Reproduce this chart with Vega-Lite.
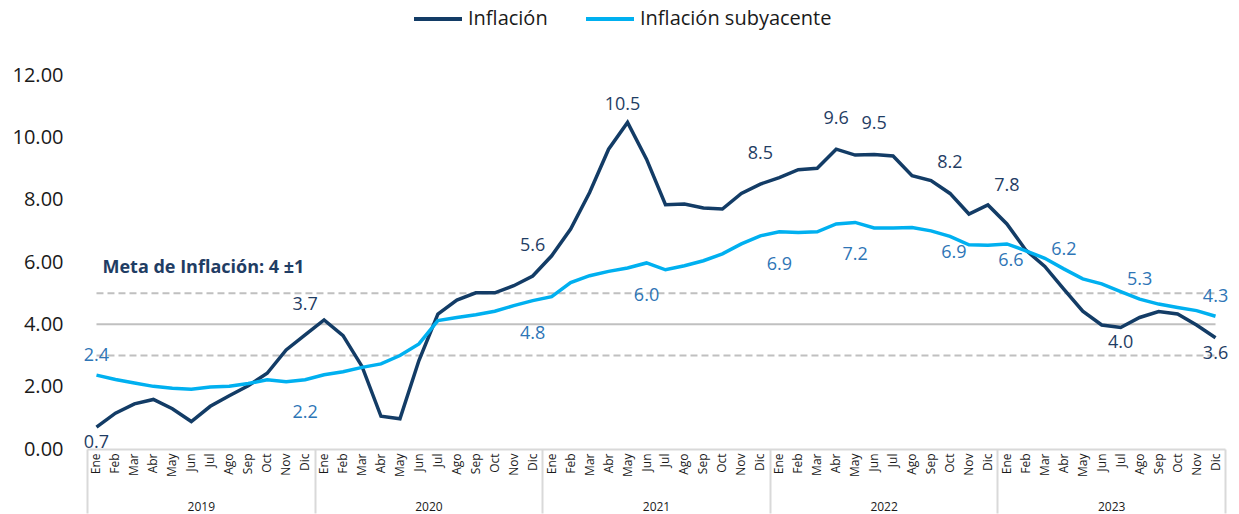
{
  "$schema": "https://vega.github.io/schema/vega-lite/v6.json",
  "autosize": {"type": "none"},
  "padding": {"left": 87, "top": 75, "right": 14, "bottom": 65},
  "width": 1138,
  "height": 374,
  "config": {
    "font": "Open Sans",
    "view": {"stroke": null}
  },
  "data": {"values": [
    {"fecha":"2019-01","anio":"2019","serie":"Inflación","valor":0.70,"etiqueta":"0.7"},
    {"fecha":"2019-02","anio":"2019","serie":"Inflación","valor":1.15},
    {"fecha":"2019-03","anio":"2019","serie":"Inflación","valor":1.45},
    {"fecha":"2019-04","anio":"2019","serie":"Inflación","valor":1.59},
    {"fecha":"2019-05","anio":"2019","serie":"Inflación","valor":1.29},
    {"fecha":"2019-06","anio":"2019","serie":"Inflación","valor":0.88},
    {"fecha":"2019-07","anio":"2019","serie":"Inflación","valor":1.37},
    {"fecha":"2019-08","anio":"2019","serie":"Inflación","valor":1.71},
    {"fecha":"2019-09","anio":"2019","serie":"Inflación","valor":2.03},
    {"fecha":"2019-10","anio":"2019","serie":"Inflación","valor":2.43},
    {"fecha":"2019-11","anio":"2019","serie":"Inflación","valor":3.18},
    {"fecha":"2019-12","anio":"2019","serie":"Inflación","valor":3.66,"etiqueta":"3.7"},
    {"fecha":"2020-01","anio":"2020","serie":"Inflación","valor":4.14},
    {"fecha":"2020-02","anio":"2020","serie":"Inflación","valor":3.64},
    {"fecha":"2020-03","anio":"2020","serie":"Inflación","valor":2.65},
    {"fecha":"2020-04","anio":"2020","serie":"Inflación","valor":1.05},
    {"fecha":"2020-05","anio":"2020","serie":"Inflación","valor":0.97},
    {"fecha":"2020-06","anio":"2020","serie":"Inflación","valor":2.84},
    {"fecha":"2020-07","anio":"2020","serie":"Inflación","valor":4.33},
    {"fecha":"2020-08","anio":"2020","serie":"Inflación","valor":4.78},
    {"fecha":"2020-09","anio":"2020","serie":"Inflación","valor":5.01},
    {"fecha":"2020-10","anio":"2020","serie":"Inflación","valor":5.01},
    {"fecha":"2020-11","anio":"2020","serie":"Inflación","valor":5.24},
    {"fecha":"2020-12","anio":"2020","serie":"Inflación","valor":5.55,"etiqueta":"5.6"},
    {"fecha":"2021-01","anio":"2021","serie":"Inflación","valor":6.20},
    {"fecha":"2021-02","anio":"2021","serie":"Inflación","valor":7.06},
    {"fecha":"2021-03","anio":"2021","serie":"Inflación","valor":8.23},
    {"fecha":"2021-04","anio":"2021","serie":"Inflación","valor":9.62},
    {"fecha":"2021-05","anio":"2021","serie":"Inflación","valor":10.48,"etiqueta":"10.5"},
    {"fecha":"2021-06","anio":"2021","serie":"Inflación","valor":9.30},
    {"fecha":"2021-07","anio":"2021","serie":"Inflación","valor":7.84},
    {"fecha":"2021-08","anio":"2021","serie":"Inflación","valor":7.86},
    {"fecha":"2021-09","anio":"2021","serie":"Inflación","valor":7.73},
    {"fecha":"2021-10","anio":"2021","serie":"Inflación","valor":7.70},
    {"fecha":"2021-11","anio":"2021","serie":"Inflación","valor":8.20},
    {"fecha":"2021-12","anio":"2021","serie":"Inflación","valor":8.50,"etiqueta":"8.5"},
    {"fecha":"2022-01","anio":"2022","serie":"Inflación","valor":8.71},
    {"fecha":"2022-02","anio":"2022","serie":"Inflación","valor":8.96},
    {"fecha":"2022-03","anio":"2022","serie":"Inflación","valor":9.01},
    {"fecha":"2022-04","anio":"2022","serie":"Inflación","valor":9.62,"etiqueta":"9.6"},
    {"fecha":"2022-05","anio":"2022","serie":"Inflación","valor":9.43},
    {"fecha":"2022-06","anio":"2022","serie":"Inflación","valor":9.45,"etiqueta":"9.5"},
    {"fecha":"2022-07","anio":"2022","serie":"Inflación","valor":9.40},
    {"fecha":"2022-08","anio":"2022","serie":"Inflación","valor":8.77},
    {"fecha":"2022-09","anio":"2022","serie":"Inflación","valor":8.61},
    {"fecha":"2022-10","anio":"2022","serie":"Inflación","valor":8.20,"etiqueta":"8.2"},
    {"fecha":"2022-11","anio":"2022","serie":"Inflación","valor":7.54},
    {"fecha":"2022-12","anio":"2022","serie":"Inflación","valor":7.83},
    {"fecha":"2023-01","anio":"2023","serie":"Inflación","valor":7.22,"etiqueta":"7.8"},
    {"fecha":"2023-02","anio":"2023","serie":"Inflación","valor":6.38},
    {"fecha":"2023-03","anio":"2023","serie":"Inflación","valor":5.86},
    {"fecha":"2023-04","anio":"2023","serie":"Inflación","valor":5.13},
    {"fecha":"2023-05","anio":"2023","serie":"Inflación","valor":4.42},
    {"fecha":"2023-06","anio":"2023","serie":"Inflación","valor":3.98},
    {"fecha":"2023-07","anio":"2023","serie":"Inflación","valor":3.90,"etiqueta":"4.0"},
    {"fecha":"2023-08","anio":"2023","serie":"Inflación","valor":4.22},
    {"fecha":"2023-09","anio":"2023","serie":"Inflación","valor":4.41},
    {"fecha":"2023-10","anio":"2023","serie":"Inflación","valor":4.33},
    {"fecha":"2023-11","anio":"2023","serie":"Inflación","valor":3.98},
    {"fecha":"2023-12","anio":"2023","serie":"Inflación","valor":3.57,"etiqueta":"3.6"},
    {"fecha":"2019-01","anio":"2019","serie":"Inflación subyacente","valor":2.37,"etiqueta":"2.4"},
    {"fecha":"2019-02","anio":"2019","serie":"Inflación subyacente","valor":2.23},
    {"fecha":"2019-03","anio":"2019","serie":"Inflación subyacente","valor":2.12},
    {"fecha":"2019-04","anio":"2019","serie":"Inflación subyacente","valor":2.01},
    {"fecha":"2019-05","anio":"2019","serie":"Inflación subyacente","valor":1.95},
    {"fecha":"2019-06","anio":"2019","serie":"Inflación subyacente","valor":1.92},
    {"fecha":"2019-07","anio":"2019","serie":"Inflación subyacente","valor":1.99},
    {"fecha":"2019-08","anio":"2019","serie":"Inflación subyacente","valor":2.01},
    {"fecha":"2019-09","anio":"2019","serie":"Inflación subyacente","valor":2.10},
    {"fecha":"2019-10","anio":"2019","serie":"Inflación subyacente","valor":2.22},
    {"fecha":"2019-11","anio":"2019","serie":"Inflación subyacente","valor":2.16},
    {"fecha":"2019-12","anio":"2019","serie":"Inflación subyacente","valor":2.22,"etiqueta":"2.2"},
    {"fecha":"2020-01","anio":"2020","serie":"Inflación subyacente","valor":2.38},
    {"fecha":"2020-02","anio":"2020","serie":"Inflación subyacente","valor":2.48},
    {"fecha":"2020-03","anio":"2020","serie":"Inflación subyacente","valor":2.62},
    {"fecha":"2020-04","anio":"2020","serie":"Inflación subyacente","valor":2.73},
    {"fecha":"2020-05","anio":"2020","serie":"Inflación subyacente","valor":3.00},
    {"fecha":"2020-06","anio":"2020","serie":"Inflación subyacente","valor":3.37},
    {"fecha":"2020-07","anio":"2020","serie":"Inflación subyacente","valor":4.12},
    {"fecha":"2020-08","anio":"2020","serie":"Inflación subyacente","valor":4.22},
    {"fecha":"2020-09","anio":"2020","serie":"Inflación subyacente","valor":4.31},
    {"fecha":"2020-10","anio":"2020","serie":"Inflación subyacente","valor":4.42},
    {"fecha":"2020-11","anio":"2020","serie":"Inflación subyacente","valor":4.60},
    {"fecha":"2020-12","anio":"2020","serie":"Inflación subyacente","valor":4.76,"etiqueta":"4.8"},
    {"fecha":"2021-01","anio":"2021","serie":"Inflación subyacente","valor":4.89},
    {"fecha":"2021-02","anio":"2021","serie":"Inflación subyacente","valor":5.34},
    {"fecha":"2021-03","anio":"2021","serie":"Inflación subyacente","valor":5.56},
    {"fecha":"2021-04","anio":"2021","serie":"Inflación subyacente","valor":5.70},
    {"fecha":"2021-05","anio":"2021","serie":"Inflación subyacente","valor":5.81},
    {"fecha":"2021-06","anio":"2021","serie":"Inflación subyacente","valor":5.97,"etiqueta":"6.0"},
    {"fecha":"2021-07","anio":"2021","serie":"Inflación subyacente","valor":5.75},
    {"fecha":"2021-08","anio":"2021","serie":"Inflación subyacente","valor":5.88},
    {"fecha":"2021-09","anio":"2021","serie":"Inflación subyacente","valor":6.04},
    {"fecha":"2021-10","anio":"2021","serie":"Inflación subyacente","valor":6.26},
    {"fecha":"2021-11","anio":"2021","serie":"Inflación subyacente","valor":6.58},
    {"fecha":"2021-12","anio":"2021","serie":"Inflación subyacente","valor":6.84},
    {"fecha":"2022-01","anio":"2022","serie":"Inflación subyacente","valor":6.97,"etiqueta":"6.9"},
    {"fecha":"2022-02","anio":"2022","serie":"Inflación subyacente","valor":6.95},
    {"fecha":"2022-03","anio":"2022","serie":"Inflación subyacente","valor":6.97},
    {"fecha":"2022-04","anio":"2022","serie":"Inflación subyacente","valor":7.22},
    {"fecha":"2022-05","anio":"2022","serie":"Inflación subyacente","valor":7.27,"etiqueta":"7.2"},
    {"fecha":"2022-06","anio":"2022","serie":"Inflación subyacente","valor":7.09},
    {"fecha":"2022-07","anio":"2022","serie":"Inflación subyacente","valor":7.09},
    {"fecha":"2022-08","anio":"2022","serie":"Inflación subyacente","valor":7.11},
    {"fecha":"2022-09","anio":"2022","serie":"Inflación subyacente","valor":7.00},
    {"fecha":"2022-10","anio":"2022","serie":"Inflación subyacente","valor":6.82,"etiqueta":"6.9"},
    {"fecha":"2022-11","anio":"2022","serie":"Inflación subyacente","valor":6.55},
    {"fecha":"2022-12","anio":"2022","serie":"Inflación subyacente","valor":6.54},
    {"fecha":"2023-01","anio":"2023","serie":"Inflación subyacente","valor":6.58,"etiqueta":"6.6"},
    {"fecha":"2023-02","anio":"2023","serie":"Inflación subyacente","valor":6.36},
    {"fecha":"2023-03","anio":"2023","serie":"Inflación subyacente","valor":6.12},
    {"fecha":"2023-04","anio":"2023","serie":"Inflación subyacente","valor":5.78,"etiqueta":"6.2"},
    {"fecha":"2023-05","anio":"2023","serie":"Inflación subyacente","valor":5.46},
    {"fecha":"2023-06","anio":"2023","serie":"Inflación subyacente","valor":5.30},
    {"fecha":"2023-07","anio":"2023","serie":"Inflación subyacente","valor":5.05},
    {"fecha":"2023-08","anio":"2023","serie":"Inflación subyacente","valor":4.81,"etiqueta":"5.3"},
    {"fecha":"2023-09","anio":"2023","serie":"Inflación subyacente","valor":4.65},
    {"fecha":"2023-10","anio":"2023","serie":"Inflación subyacente","valor":4.54},
    {"fecha":"2023-11","anio":"2023","serie":"Inflación subyacente","valor":4.44},
    {"fecha":"2023-12","anio":"2023","serie":"Inflación subyacente","valor":4.26,"etiqueta":"4.3"}
  ]},
  "encoding": {
    "y": {
      "field": "valor", "type": "quantitative",
      "scale": {"domain": [0, 12], "nice": false, "zero": true},
      "axis": {
        "title": null, "values": [0, 2, 4, 6, 8, 10, 12], "format": ".2f",
        "labelFontSize": 20, "labelColor": "#1a1a1a", "labelPadding": 24,
        "ticks": false, "domain": false, "grid": false
      }
    }
  },
  "layer": [
    {
      "layer": [
        {
          "transform": [{"filter": "datum.fecha == '2019-01' && datum.serie == 'Inflación'"}],
          "mark": {"type": "rule", "color": "#c0c0c0", "strokeWidth": 2, "strokeDash": [7, 4]},
          "encoding": {
            "x": {"datum": "2019-01"},
            "x2": {"datum": "2023-12"},
            "y": {"datum": 5}
          }
        },
        {
          "transform": [{"filter": "datum.fecha == '2019-01' && datum.serie == 'Inflación'"}],
          "mark": {"type": "rule", "color": "#c0c0c0", "strokeWidth": 2, "strokeDash": [7, 4]},
          "encoding": {
            "x": {"datum": "2019-01"},
            "x2": {"datum": "2023-12"},
            "y": {"datum": 3}
          }
        },
        {
          "transform": [{"filter": "datum.fecha == '2019-01' && datum.serie == 'Inflación'"}],
          "mark": {"type": "rule", "color": "#c0c0c0", "strokeWidth": 2},
          "encoding": {
            "x": {"datum": "2019-01"},
            "x2": {"datum": "2023-12"},
            "y": {"datum": 4}
          }
        },
        {
          "mark": {"type": "line", "strokeWidth": 3.5, "strokeJoin": "miter"},
          "encoding": {
            "color": {
              "field": "serie", "type": "nominal",
              "scale": {"domain": ["Inflación", "Inflación subyacente"], "range": ["#133C66", "#00B0F0"]},
              "legend": {
                "title": null, "orient": "none", "direction": "horizontal",
                "legendX": 325, "legendY": -82,
                "symbolType": "stroke", "symbolSize": 2304, "symbolStrokeWidth": 4,
                "labelFontSize": 20, "labelColor": "#1a1a1a", "columnPadding": 30,
                "labelOffset": 4, "labelLimit": 0
              }
            }
          }
        },
        {
          "transform": [{"filter": "datum.fecha == '2019-01' && datum.serie == 'Inflación'"}],
          "mark": {"type": "text", "text": "Meta de Inflación: 4 ±1", "align": "left", "fontSize": 18, "fontWeight": "bold", "color": "#1F3D64", "dx": 6},
          "encoding": {
            "x": {"datum": "2019-01"},
            "y": {"datum": 5.8}
          }
        },
        {
          "transform": [{"filter": "datum.etiqueta && datum.serie == 'Inflación' && indexof(['2019-12','2020-12','2021-12','2022-04','2022-06','2022-10'], datum.fecha) >= 0"}],
          "mark": {"type": "text", "fontSize": 18, "color": "#1F3D64", "dy": -30},
          "encoding": {"text": {"field": "etiqueta"}}
        },
        {
          "transform": [{"filter": "datum.etiqueta && datum.serie == 'Inflación' && datum.fecha == '2021-05'"}],
          "mark": {"type": "text", "fontSize": 18, "color": "#1F3D64", "dy": -17, "dx": -5},
          "encoding": {"text": {"field": "etiqueta"}}
        },
        {
          "transform": [{"filter": "datum.etiqueta && datum.serie == 'Inflación' && datum.fecha == '2023-01'"}],
          "mark": {"type": "text", "fontSize": 18, "color": "#1F3D64", "dy": -38},
          "encoding": {"text": {"field": "etiqueta"}}
        },
        {
          "transform": [{"filter": "datum.etiqueta && datum.serie == 'Inflación' && indexof(['2019-01','2023-07','2023-12'], datum.fecha) >= 0"}],
          "mark": {"type": "text", "fontSize": 18, "color": "#1F3D64", "dy": 16},
          "encoding": {"text": {"field": "etiqueta"}}
        },
        {
          "transform": [{"filter": "datum.etiqueta && datum.serie == 'Inflación subyacente' && indexof(['2019-01','2023-04','2023-08','2023-12'], datum.fecha) >= 0"}],
          "mark": {"type": "text", "fontSize": 18, "color": "#2E75B6", "dy": -19},
          "encoding": {"text": {"field": "etiqueta"}}
        },
        {
          "transform": [{"filter": "datum.etiqueta && datum.serie == 'Inflación subyacente' && indexof(['2019-12','2020-12','2021-06','2022-01','2022-05'], datum.fecha) >= 0"}],
          "mark": {"type": "text", "fontSize": 18, "color": "#2E75B6", "dy": 33},
          "encoding": {"text": {"field": "etiqueta"}}
        },
        {
          "transform": [{"filter": "datum.etiqueta && datum.serie == 'Inflación subyacente' && indexof(['2022-10','2023-01'], datum.fecha) >= 0"}],
          "mark": {"type": "text", "fontSize": 18, "color": "#2E75B6", "dy": 17, "dx": 4},
          "encoding": {"text": {"field": "etiqueta"}}
        }
      ],
      "encoding": {
        "x": {
          "field": "fecha", "type": "ordinal",
          "scale": {"type": "band", "paddingInner": 0, "paddingOuter": 0},
          "axis": {
            "title": null, "orient": "bottom", "labelAngle": -90,
            "labelExpr": "['Ene','Feb','Mar','Abr','May','Jun','Jul','Ago','Sep','Oct','Nov','Dic'][toNumber(slice(datum.value, 5)) - 1]",
            "labelFontSize": 12, "labelColor": "#1a1a1a", "labelPadding": 4,
            "ticks": false, "domain": true, "domainColor": "#d9d9d9", "domainWidth": 2, "grid": false
          }
        }
      }
    },
    {
      "mark": {"type": "point", "opacity": 0},
      "encoding": {
        "x": {
          "field": "anio", "type": "ordinal",
          "scale": {"type": "band", "paddingInner": 0, "paddingOuter": 0},
          "axis": {
            "title": null, "orient": "bottom", "labelAngle": 0,
            "tickBand": "extent", "tickSize": 64, "tickColor": "#d9d9d9", "tickWidth": 2,
            "labelFontSize": 12, "labelColor": "#1a1a1a", "labelPadding": -12, "labelBaseline": "top",
            "domain": false, "grid": false
          }
        }
      }
    }
  ],
  "resolve": {"scale": {"x": "independent"}}
}
